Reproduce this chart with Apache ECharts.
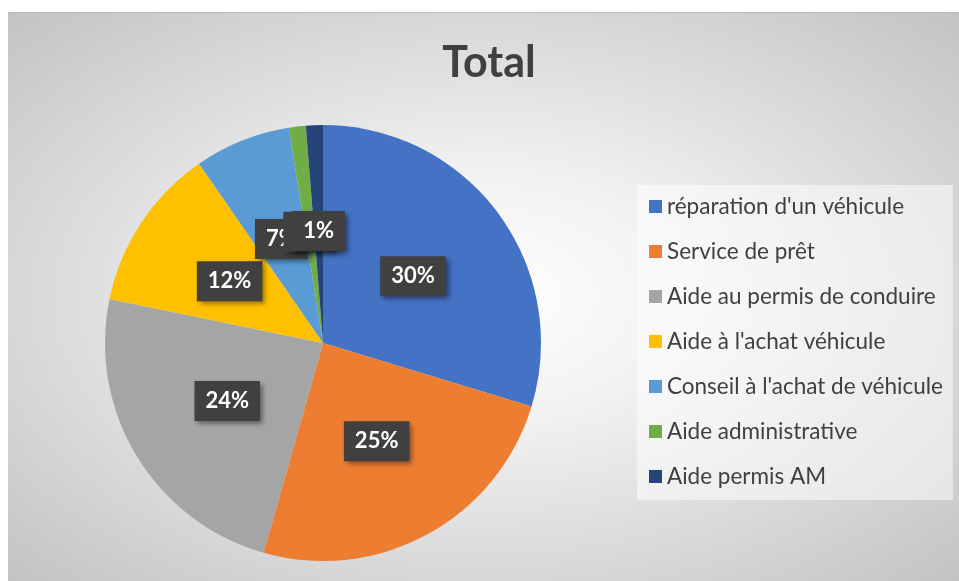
<!DOCTYPE html>
<html>
<head>
<meta charset="utf-8">
<script src="https://cdn.jsdelivr.net/npm/echarts@6/dist/echarts.min.js"></script>
<style>
  html, body { margin: 0; padding: 0; background: #ffffff; width: 959px; height: 581px; overflow: hidden; }
  #chart {
    position: absolute; left: 8px; top: 12px; width: 951px; height: 569px;
    background: radial-gradient(ellipse at 50% 50%, #ffffff 0%, #f2f2f2 30%, #c3c3c3 100%);
    border-top: 1px solid #b9b9b9;
    box-sizing: border-box;
  }
</style>
</head>
<body>
<div id="chart"></div>
<script>
const titleText = 'Total';
const categories = [
  "réparation d'un véhicule",
  "Service de prêt",
  "Aide au permis de conduire",
  "Aide à l'achat véhicule",
  "Conseil à l'achat de véhicule",
  "Aide administrative",
  "Aide permis AM"
];
const values = [71, 59, 57, 29, 17, 3, 3];
const colors = ['#4472C4', '#ED7D31', '#A5A5A5', '#FFC000', '#5B9BD5', '#70AD47', '#264478'];

const chart = echarts.init(document.getElementById('chart'), null, { renderer: 'canvas' });
const fontFamily = 'Lato, "Open Sans", sans-serif';

chart.setOption({
  backgroundColor: 'transparent',
  color: colors,
  animation: false,
  title: {
    text: titleText,
    left: 476,
    top: 24,
    textAlign: 'center',
    textStyle: { fontFamily: fontFamily, fontWeight: 'bold', fontSize: 43, color: '#404040' }
  },
  legend: {
    orient: 'vertical',
    left: 629,
    top: 172,
    padding: [10, 10, 12, 12],
    backgroundColor: 'rgba(255,255,255,0.5)',
    itemWidth: 13,
    itemHeight: 13,
    itemGap: 22,
    icon: 'rect',
    selectedMode: false,
    data: categories,
    textStyle: { fontFamily: fontFamily, fontSize: 22.5, color: '#404040', lineHeight: 22 }
  },
  series: [{
    type: 'pie',
    center: [315, 330],
    radius: [0, 218],
    startAngle: 90,
    clockwise: true,
    avoidLabelOverlap: false,
    minShowLabelAngle: 0,
    labelLayout: { hideOverlap: false },
    itemStyle: { borderWidth: 0 },
    emphasis: { disabled: true },
    label: {
      show: true,
      position: 'inside',
      formatter: function (p) { return Math.round(p.percent) + '%'; },
      fontFamily: fontFamily,
      fontWeight: 'bold',
      fontSize: 22,
      color: '#ffffff',
      backgroundColor: '#404040',
      padding: [8, 11, 7, 11],
      lineHeight: 25,
      shadowColor: 'rgba(0,0,0,0.45)',
      shadowBlur: 5,
      shadowOffsetX: 3,
      shadowOffsetY: 3
    },
    labelLine: { show: false },
    data: categories.map(function (c, i) { return { name: c, value: values[i] }; })
  }]
});
</script>
</body>
</html>
